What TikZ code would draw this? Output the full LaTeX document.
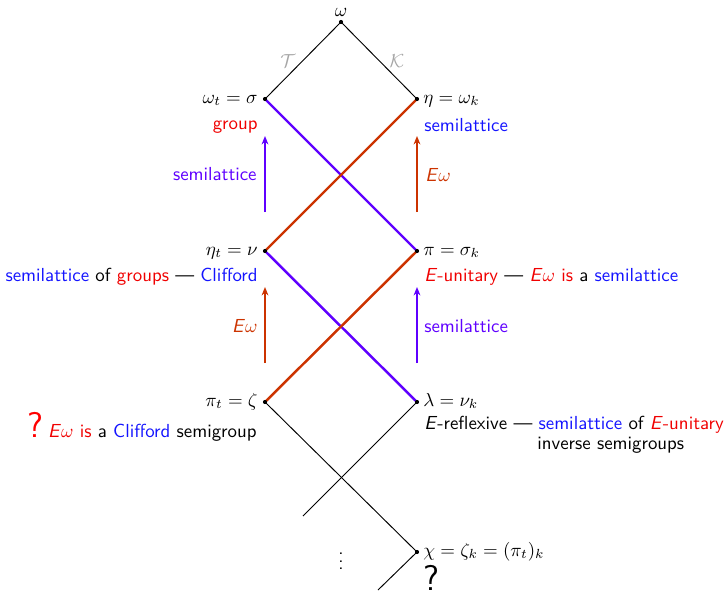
\documentclass[tikz,border=0pt]{standalone}
\usetikzlibrary{arrows.meta}
\renewcommand{\familydefault}{\sfdefault}
\definecolor{vio}{RGB}{95,0,255}
\definecolor{org}{RGB}{204,51,0}
\definecolor{tblue}{RGB}{20,20,255}
\definecolor{tred}{RGB}{240,0,0}
\newcommand{\Eom}{\textit{E}$\omega$}
\begin{document}
\begin{tikzpicture}[x=0.53pt,y=-0.53pt,
  thinline/.style={black,line width=0.5pt},
  vline/.style={vio,line width=1.3pt},
  oline/.style={org,line width=1.3pt},
  uparrow/.style={line width=0.6pt,-{Stealth[length=4.5pt,width=3.6pt]}},
  lab/.style={inner sep=0pt},
  bigq/.style={inner sep=0pt,font=\fontsize{19}{21}\selectfont}]
\useasboundingbox (0,0) rectangle (724,592);
% vertices
\coordinate (w) at (341,22);
\coordinate (wt) at (265,99);
\coordinate (eta) at (417,99);
\coordinate (etat) at (265,251);
\coordinate (pi) at (417,251);
\coordinate (pit) at (265,402);
\coordinate (lam) at (417,402);
\coordinate (chi) at (417,552);
\coordinate (lamend) at (303,516);
\coordinate (chiend) at (378,590);
% lines
\draw[thinline] (wt) -- (w) -- (eta);
\draw[thinline] (pit) -- (chi) -- (chiend);
\draw[thinline] (lam) -- (lamend);
\draw[vline] (wt) -- (pi);
\draw[vline] (etat) -- (lam);
\draw[oline] (eta) -- (etat);
\draw[oline] (pi) -- (pit);
\foreach \v in {w,wt,eta,etat,pi,pit,lam,chi} \fill (\v) circle (1.1pt);
% T and K
\node[lab,text=gray!70] (T) at (288,61) {$\mathcal{T}$};
\node[lab,text=gray!70] (K) at (397,61) {$\mathcal{K}$};
% vertex labels
\node[lab,anchor=base] (lw) at (341,16) {$\omega$};
\node[lab,anchor=base east] (lwt) at (258,103) {$\omega_t=\sigma$};
\node[lab,anchor=base west] (leta) at (423,103) {$\eta=\omega_k$};
\node[lab,anchor=base east] (letat) at (258,255) {$\eta_t=\nu$};
\node[lab,anchor=base west] (lpi) at (423,255) {$\pi=\sigma_k$};
\node[lab,anchor=base east] (lpit) at (258,406) {$\pi_t=\zeta$};
\node[lab,anchor=base west] (llam) at (423,406) {$\lambda=\nu_k$};
\node[lab,anchor=base west] (lchi) at (423,556) {$\chi=\zeta_k=(\pi_t)_k$};
% descriptions
\node[lab,anchor=base east,text=tred] (dwt) at (258,129) {group};
\node[lab,anchor=base west,text=tblue] (deta) at (424,131) {semilattice};
\node[lab,anchor=base east] (detat) at (258,281) {\textcolor{tblue}{semilattice} of \textcolor{tred}{groups} --- \textcolor{tblue}{Clifford}};
\node[lab,anchor=base west] (dpi) at (424,281) {\textcolor{tred}{\textit{E}-unitary} --- \textcolor{tred}{\Eom{} is} a \textcolor{tblue}{semilattice}};
\node[lab,anchor=base east] (dpit) at (257,437) {\textcolor{tred}{\Eom{} is} a \textcolor{tblue}{Clifford} semigroup};
\node[bigq,anchor=base east,text=red] (qpit) at (44,437) {?};
\node[lab,anchor=base west] (dlam) at (424,429) {\textit{E}-reflexive --- \textcolor{tblue}{semilattice} of \textcolor{tred}{\textit{E}-unitary}};
\node[lab,anchor=base west] (dlam2) at (537,449) {inverse semigroups};
\node[bigq,anchor=base west] (qchi) at (423,590) {?};
\node[lab] (vd) at (341,556) {$\vdots$};
% arrows
\coordinate (a1s) at (265,212); \coordinate (a1e) at (265,136);
\coordinate (a2s) at (417,212); \coordinate (a2e) at (417,136);
\coordinate (a3s) at (265,363); \coordinate (a3e) at (265,287);
\coordinate (a4s) at (417,363); \coordinate (a4e) at (417,287);
\draw[uparrow,vio] (a1s) -- (a1e);
\draw[uparrow,org] (a2s) -- (a2e);
\draw[uparrow,org] (a3s) -- (a3e);
\draw[uparrow,vio] (a4s) -- (a4e);
\node[lab,anchor=base east,text=vio] (l1) at (257,180) {semilattice};
\node[lab,anchor=base west,text=org] (l2) at (425,181) {\Eom};
\node[lab,anchor=base east,text=org] (l3) at (258,332) {\Eom};
\node[lab,anchor=base west,text=vio] (l4) at (424,332) {semilattice};
\end{tikzpicture}
\end{document}
